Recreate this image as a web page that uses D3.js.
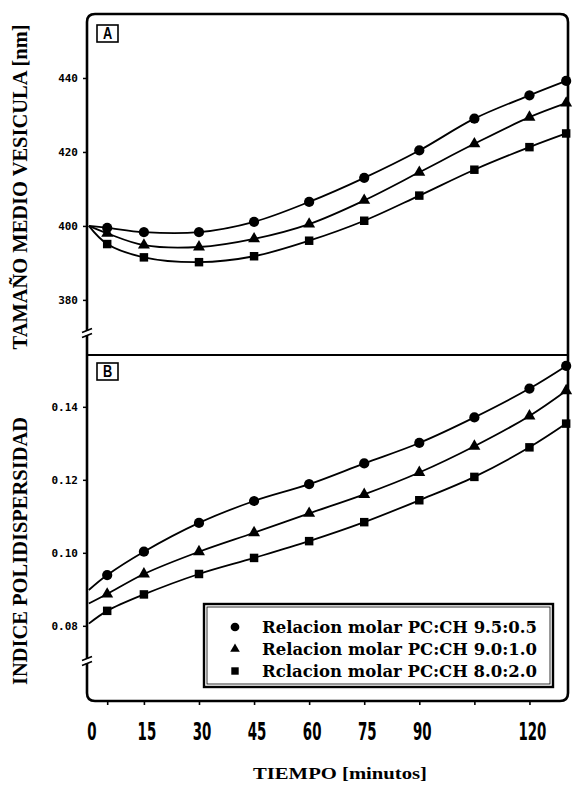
<!DOCTYPE html>
<html>
<head>
<meta charset="utf-8">
<script src="https://cdn.jsdelivr.net/npm/d3@7"></script>
<style>
  body { margin: 0; background: #fff; }
  svg { display: block; }
</style>
</head>
<body>
<svg id="chart" width="573" height="785"></svg>
<script>

// sample times (minutos)
var times = [5, 15, 30, 45, 60, 75, 90, 105, 120, 130];
var tickTimes = [5, 15, 30, 45, 60, 75, 90, 105, 120];
var tickLabels = [0, 15, 30, 45, 60, 75, 90, 120];

// panel A : tamano medio vesicula [nm]
var sizeStart = [400, 400, 400];
var size95 = [399.5, 398.3, 398.3, 401.1, 406.5, 413.0, 420.4, 429.0, 435.3, 439.2];
var size90 = [398.0, 394.8, 394.3, 396.5, 400.5, 406.9, 414.5, 422.2, 429.4, 433.2];
var size80 = [395.1, 391.5, 390.2, 391.8, 396.0, 401.4, 408.2, 415.2, 421.3, 425.0];
var sizeTicks = [380, 400, 420, 440];

// panel B : indice polidispersidad
var pdiStart = [0.0898, 0.0861, 0.0806];
var pdi95 = [0.0939, 0.1003, 0.1082, 0.1142, 0.1188, 0.1245, 0.1301, 0.1371, 0.1450, 0.1512];
var pdi90 = [0.0887, 0.0942, 0.1003, 0.1055, 0.1108, 0.1160, 0.1220, 0.1292, 0.1375, 0.1444];
var pdi80 = [0.0841, 0.0886, 0.0942, 0.0986, 0.1032, 0.1084, 0.1144, 0.1208, 0.1289, 0.1354];
var pdiTicks = [0.08, 0.10, 0.12, 0.14];

var seriesNames = ["Relacion molar PC:CH 9.5:0.5", "Relacion molar PC:CH 9.0:1.0", "Rclacion molar PC:CH 8.0:2.0"];
var seriesSymbols = ["circle", "triangle", "square"];

var fLeft = 87, fRight = 568, fTop = 14, fMid = 355, fBottom = 701;

var svg = d3.select("#chart");

var x = d3.scaleLinear().domain([-0.5, 130.5]).range([fLeft, fRight]);
var yA = d3.scaleLinear().domain([365.1, 457.3]).range([fMid, fTop]);
var yB = d3.scaleLinear().domain([0.0594, 0.1542]).range([fBottom, fMid]);

function symbolPath(kind, big) {
	var s = d3.symbol();
	if (kind == "circle") s.type(d3.symbolCircle).size(big ? 82 : 60);
	if (kind == "triangle") s.type(d3.symbolTriangle).size(big ? 62 : 40);
	if (kind == "square") s.type(d3.symbolSquare).size(big ? 72 : 55);
	return s();
}

function drawPanel(yScale, starts, seriesList) {
	var line = d3.line()
			.x(function(d) { return x(d[0]); })
			.y(function(d) { return yScale(d[1]); })
			.curve(d3.curveCatmullRom.alpha(0.5));

	seriesList.forEach(function(vals, i) {
		var pts = [[0, starts[i]]].concat(times.map(function(t, j) { return [t, vals[j]]; }));
		svg.append("path")
				.attr("d", line(pts))
				.attr("fill", "none")
				.attr("stroke", "#000")
				.attr("stroke-width", 1.8);

		svg.append("g").selectAll("path")
				.data(times.map(function(t, j) { return [t, vals[j]]; }))
			.enter().append("path")
				.attr("d", symbolPath(seriesSymbols[i], true))
				.attr("transform", function(d) { return "translate(" + x(d[0]) + "," + yScale(d[1]) + ")"; })
				.attr("fill", "#000");
	});
}

drawPanel(yA, sizeStart, [size95, size90, size80]);
drawPanel(yB, pdiStart, [pdi95, pdi90, pdi80]);

// frame with rounded corners and divider
var r = 8;
svg.append("path")
		.attr("d", "M" + (fLeft + r) + "," + fTop + " H" + (fRight - r) + " Q" + fRight + "," + fTop + " " + fRight + "," + (fTop + r) +
			" V" + (fBottom - r) + " Q" + fRight + "," + fBottom + " " + (fRight - r) + "," + fBottom +
			" H" + (fLeft + r) + " Q" + fLeft + "," + fBottom + " " + fLeft + "," + (fBottom - r) +
			" V" + (fTop + r) + " Q" + fLeft + "," + fTop + " " + (fLeft + r) + "," + fTop + "Z")
		.attr("fill", "none")
		.attr("stroke", "#000")
		.attr("stroke-width", 2.6);

svg.append("line")
		.attr("x1", fLeft).attr("x2", fRight)
		.attr("y1", fMid).attr("y2", fMid)
		.attr("stroke", "#000")
		.attr("stroke-width", 2.2);

// y axes
var axA = svg.append("g")
		.attr("transform", "translate(" + fLeft + ",0)")
		.call(d3.axisLeft(yA).tickValues(sizeTicks).tickSize(4).tickFormat(d3.format("d")));
var axB = svg.append("g")
		.attr("transform", "translate(" + fLeft + ",0)")
		.call(d3.axisLeft(yB).tickValues(pdiTicks).tickSize(4).tickFormat(d3.format(".2f")));

[axA, axB].forEach(function(ax) {
	ax.select(".domain").remove();
	ax.selectAll("line").attr("stroke", "#000").attr("stroke-width", 1.5);
	ax.selectAll("text")
			.attr("x", -9)
			.style("font-family", "'DejaVu Sans Mono', monospace")
			.style("font-weight", "bold")
			.style("font-size", "11px")
			.attr("fill", "#000");
});

// x axis
var axX = svg.append("g")
		.attr("transform", "translate(0," + fBottom + ")")
		.call(d3.axisBottom(x).tickValues(tickTimes).tickSize(4).tickFormat(""));
axX.select(".domain").remove();
axX.selectAll("line").attr("stroke", "#000").attr("stroke-width", 1.6);

svg.append("g").selectAll("text")
		.data(tickLabels)
	.enter().append("text")
		.attr("transform", function(d) { return "translate(" + (x(d) + 3) + ",740) scale(0.62,1)"; })
		.attr("text-anchor", "middle")
		.style("font-family", "'Liberation Sans Narrow', 'DejaVu Sans Condensed', sans-serif")
		.style("font-weight", "bold")
		.style("font-size", "24px")
		.text(function(d) { return d; });

// axis break marks
[333, 661].forEach(function(by) {
	svg.append("rect")
			.attr("x", fLeft - 3).attr("y", by - 2)
			.attr("width", 6).attr("height", 4)
			.attr("fill", "#fff");
	[-2.5, 2.5].forEach(function(o) {
		svg.append("line")
				.attr("x1", fLeft - 5).attr("y1", by + o + 2)
				.attr("x2", fLeft + 5).attr("y2", by + o - 2)
				.attr("stroke", "#000")
				.attr("stroke-width", 1.6);
	});
});

// panel letters
[["A", 25], ["B", 363]].forEach(function(p) {
	svg.append("rect")
			.attr("x", 97).attr("y", p[1])
			.attr("width", 21).attr("height", 17)
			.attr("fill", "#fff")
			.attr("stroke", "#000")
			.attr("stroke-width", 1.6);
	svg.append("text")
			.attr("transform", "translate(107.5," + (p[1] + 14) + ") scale(0.8,1)")
			.attr("text-anchor", "middle")
			.style("font-family", "'Liberation Sans Narrow', sans-serif")
			.style("font-weight", "bold")
			.style("font-size", "16px")
			.text(p[0]);
});

// legend
var lg = svg.append("g");
lg.append("rect")
		.attr("x", 204).attr("y", 604)
		.attr("width", 349).attr("height", 83)
		.attr("fill", "#fff")
		.attr("stroke", "#000")
		.attr("stroke-width", 2.4);
lg.append("rect")
		.attr("x", 207).attr("y", 607)
		.attr("width", 343).attr("height", 77)
		.attr("fill", "none")
		.attr("stroke", "#000")
		.attr("stroke-width", 0.8);

seriesNames.forEach(function(name, i) {
	var ly = 627 + i * 22;
	lg.append("path")
			.attr("d", symbolPath(seriesSymbols[i], false))
			.attr("transform", "translate(235," + ly + ")")
			.attr("fill", "#000");
	lg.append("text")
			.attr("x", 262).attr("y", ly + 6)
			.attr("textLength", 275)
			.attr("lengthAdjust", "spacingAndGlyphs")
			.style("font-family", "'DejaVu Serif', serif")
			.style("font-weight", "bold")
			.style("font-size", "16px")
			.text(name);
});

// axis titles
svg.append("text")
		.attr("x", 340).attr("y", 779)
		.attr("text-anchor", "middle")
		.attr("textLength", 174)
		.attr("lengthAdjust", "spacingAndGlyphs")
		.style("font-family", "'Liberation Serif', serif")
		.style("font-weight", "bold")
		.style("font-size", "17px")
		.text("TIEMPO [minutos]");

svg.append("text")
		.attr("transform", "translate(27,187) rotate(-90)")
		.attr("text-anchor", "middle")
		.attr("textLength", 325)
		.attr("lengthAdjust", "spacingAndGlyphs")
		.style("font-family", "'Liberation Serif', serif")
		.style("font-weight", "bold")
		.style("font-size", "20px")
		.text("TAMAÑO MEDIO VESICULA [nm]");

svg.append("text")
		.attr("transform", "translate(27,551) rotate(-90)")
		.attr("text-anchor", "middle")
		.attr("textLength", 268)
		.attr("lengthAdjust", "spacingAndGlyphs")
		.style("font-family", "'Liberation Serif', serif")
		.style("font-weight", "bold")
		.style("font-size", "20px")
		.text("INDICE POLIDISPERSIDAD");

</script>
</body>
</html>
